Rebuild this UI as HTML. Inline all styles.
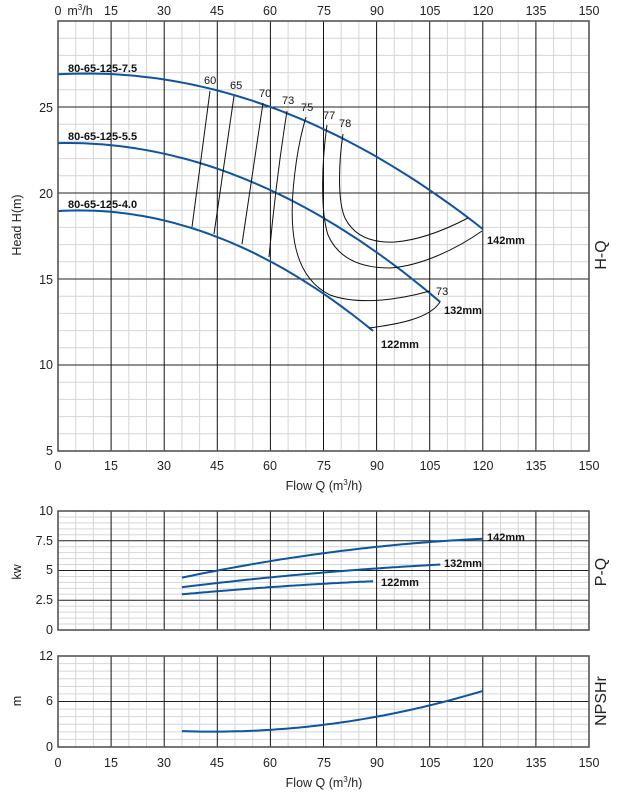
<!DOCTYPE html>
<html><head><meta charset="utf-8"><style>
html,body{margin:0;padding:0;background:#fff;}
svg{display:block;font-family:"Liberation Sans",sans-serif;}
.t{font-size:12.5px;fill:#222;}
.b{font-size:11px;font-weight:bold;fill:#111;}
.e{font-size:11px;fill:#111;}
</style></head><body>
<svg id="s" width="622" height="792" viewBox="0 0 622 792" xmlns="http://www.w3.org/2000/svg">
<g id="grid"></g>
<g id="curves" fill="none"></g>
<!-- efficiency contours -->
<g fill="none" stroke="#111" stroke-width="1">
<path d="M210,91 L192,227"/>
<path d="M234,96 L214,234"/>
<path d="M263,103 L242,244"/>
<path d="M287,111 Q276,180 269,257"/>
<path d="M306,117 C296,150 290,200 293,230 C296,265 310,285 330,295 C355,304 390,302 430,291"/>
<path d="M327,125 C322,160 320,210 328,235 C338,258 360,268 390,268 C420,266 455,250 482,231"/>
<path d="M343,134 C339,160 337,200 345,218 C355,238 375,243 395,242 C420,240 445,230 468,218"/>
<path d="M369,328 C400,324 430,318 440,302"/>
</g>
<g class="e">
<text x="204" y="84">60</text><text x="230" y="89">65</text><text x="259" y="97">70</text>
<text x="282" y="104">73</text><text x="301" y="111">75</text><text x="323" y="119">77</text>
<text x="339" y="127">78</text><text x="436" y="295">73</text>
</g>
<g class="b">
<text x="68" y="72">80-65-125-7.5</text>
<text x="68" y="140">80-65-125-5.5</text>
<text x="68" y="208">80-65-125-4.0</text>
<text x="487" y="244">142mm</text>
<text x="444" y="314">132mm</text>
<text x="381" y="348">122mm</text>
<text x="487" y="541">142mm</text>
<text x="444" y="567">132mm</text>
<text x="381" y="586">122mm</text>
</g>
<!-- top axis -->
<g class="t" text-anchor="middle">
<text x="58" y="15">0</text><text x="80" y="15">m<tspan font-size="8" dy="-5">3</tspan><tspan dy="5">/h</tspan></text>
<text x="111" y="15">15</text><text x="164" y="15">30</text><text x="217" y="15">45</text><text x="270" y="15">60</text>
<text x="324" y="15">75</text><text x="377" y="15">90</text><text x="430" y="15">105</text><text x="483" y="15">120</text>
<text x="536" y="15">135</text><text x="589" y="15">150</text>
</g>
<!-- main x axis -->
<g class="t" text-anchor="middle">
<text x="58" y="470">0</text><text x="111" y="470">15</text><text x="164" y="470">30</text><text x="217" y="470">45</text><text x="270" y="470">60</text>
<text x="324" y="470">75</text><text x="377" y="470">90</text><text x="430" y="470">105</text><text x="483" y="470">120</text>
<text x="536" y="470">135</text><text x="589" y="470">150</text>
<text x="324" y="490">Flow Q (m<tspan font-size="8" dy="-5">3</tspan><tspan dy="5">/h)</tspan></text>
</g>
<g class="t" text-anchor="middle">
<text x="58" y="767">0</text><text x="111" y="767">15</text><text x="164" y="767">30</text><text x="217" y="767">45</text><text x="270" y="767">60</text>
<text x="324" y="767">75</text><text x="377" y="767">90</text><text x="430" y="767">105</text><text x="483" y="767">120</text>
<text x="536" y="767">135</text><text x="589" y="767">150</text>
<text x="324" y="787">Flow Q (m<tspan font-size="8" dy="-5">3</tspan><tspan dy="5">/h)</tspan></text>
</g>
<!-- y labels -->
<g class="t" text-anchor="end">
<text x="53" y="455">5</text><text x="53" y="369">10</text><text x="53" y="284">15</text><text x="53" y="198">20</text><text x="53" y="112">25</text>
<text x="53" y="515">10</text><text x="53" y="545">7.5</text><text x="53" y="574">5</text><text x="53" y="604">2.5</text><text x="53" y="634">0</text>
<text x="53" y="660">12</text><text x="53" y="705">6</text><text x="53" y="751">0</text>
</g>
<g class="t" text-anchor="middle">
<text transform="translate(21,225) rotate(-90)">Head H(m)</text>
<text transform="translate(21,572) rotate(-90)">kw</text>
<text transform="translate(21,701) rotate(-90)">m</text>
</g>
<g text-anchor="middle" style="font-size:16px;fill:#222">
<text transform="translate(606,255) rotate(-90)">H-Q</text>
<text transform="translate(606,572) rotate(-90)">P-Q</text>
<text transform="translate(606,701) rotate(-90)">NPSHr</text>
</g>
</svg>
<script>
var NS="http://www.w3.org/2000/svg";
var g=document.getElementById('grid'),c=document.getElementById('curves');
function ln(p,x1,y1,x2,y2,col,w){var l=document.createElementNS(NS,'line');l.setAttribute('x1',x1);l.setAttribute('y1',y1);l.setAttribute('x2',x2);l.setAttribute('y2',y2);l.setAttribute('stroke',col);l.setAttribute('stroke-width',w);p.appendChild(l);}
var L=58,R=589;
function X(q){return L+q*(R-L)/150;}
function panel(top,bot,n,majEvery){
  for(var i=0;i<=n;i++){var y=bot-(bot-top)*i/n; if(i%majEvery) ln(g,L,y,R,y,'#d6d6d6',1);}
  for(var q=5;q<150;q+=5){if(q%15) ln(g,X(q),top,X(q),bot,'#d6d6d6',1);}
  for(var i=majEvery;i<n;i+=majEvery){var y=bot-(bot-top)*i/n; ln(g,L,y,R,y,'#222',1);}
  for(var q=15;q<150;q+=15) ln(g,X(q),top,X(q),bot,'#111',1);
  var r=document.createElementNS(NS,'rect');r.setAttribute('x',L);r.setAttribute('y',top);r.setAttribute('width',R-L);r.setAttribute('height',bot-top);r.setAttribute('fill','none');r.setAttribute('stroke','#555');r.setAttribute('stroke-width',1.6);g.appendChild(r);
}
panel(21,451,25,5);
panel(511,630,20,5);
panel(656,747,12,6);
function curve(f,q0,q1,Y){var d='';for(var i=0;i<=60;i++){var q=q0+(q1-q0)*i/60;d+=(i?'L':'M')+X(q).toFixed(1)+','+Y(f(q)).toFixed(1);}var p=document.createElementNS(NS,'path');p.setAttribute('d',d);p.setAttribute('stroke','#0f54a0');p.setAttribute('stroke-width',2);c.appendChild(p);}
var YH=function(h){return 451-(h-5)*17.2;};
curve(function(q){return 26.9+0.01167*q-0.000722*q*q;},0,120,YH);
curve(function(q){return 22.9+0.0045*q-0.000834*q*q;},0,108,YH);
curve(function(q){return 18.95+0.0122*q-0.001017*q*q;},0,89,YH);
var YP=function(p){return 630-p*11.9;};
function fit(q0,v0,qm,vm,q1,v1){ // quadratic through 3 pts
 return function(q){return v0*(q-qm)*(q-q1)/((q0-qm)*(q0-q1))+vm*(q-q0)*(q-q1)/((qm-q0)*(qm-q1))+v1*(q-q0)*(q-qm)/((q1-q0)*(q1-qm));};}
curve(fit(35,4.4,75,6.45,120,7.67),35,120,YP);
curve(fit(35,3.6,70,4.7,108,5.5),35,108,YP);
curve(fit(35,3.0,60,3.6,89,4.1),35,89,YP);
var YN=function(n){return 747-n*7.58;};
curve(fit(35,2.1,90,4.0,120,7.4),35,120,YN);
</script>
</body></html>
